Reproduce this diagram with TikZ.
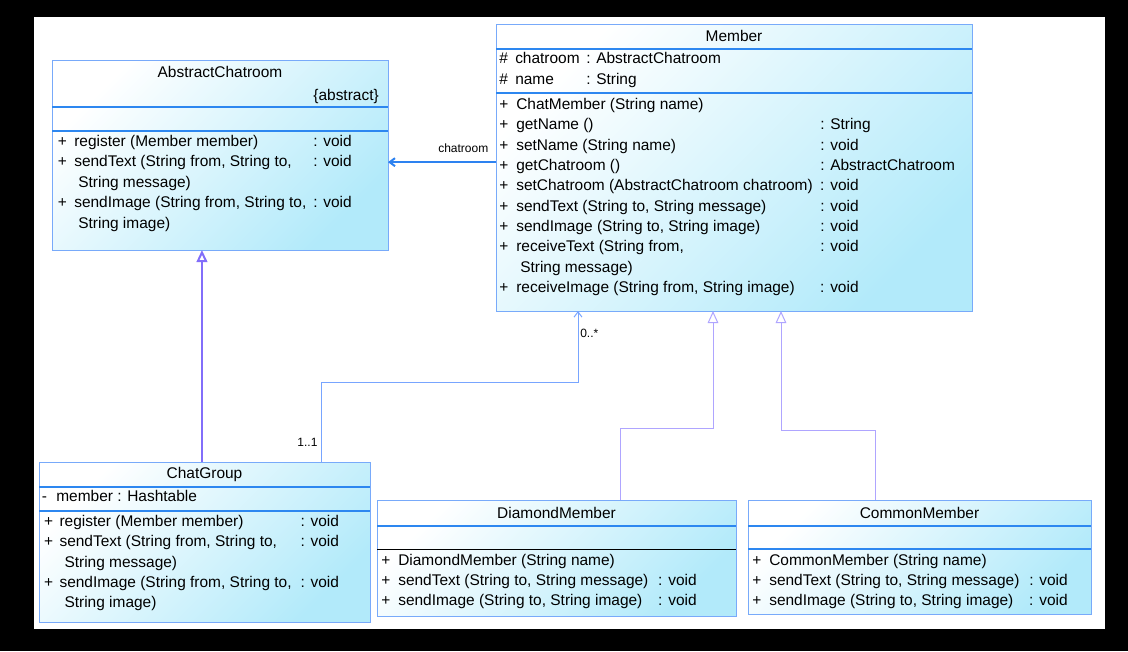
\documentclass[tikz,border=0pt]{standalone}
\usepackage{fontspec}
\setmainfont{Liberation Sans}
\usetikzlibrary{arrows.meta}
\definecolor{boxline}{RGB}{120,170,250}
\definecolor{boxcyan}{RGB}{178,234,250}
\definecolor{divblue}{RGB}{45,135,240}
\definecolor{genpurple}{RGB}{130,110,250}
\definecolor{genlight}{RGB}{175,165,255}
\definecolor{assocblue}{RGB}{45,130,240}
\definecolor{assoclight}{RGB}{120,165,255}
\newcommand{\umlfont}{\fontsize{11.6}{14}\selectfont}
\newcommand{\tagfont}{\fontsize{9}{11}\selectfont}
\tikzset{
    classbox/.style={draw=boxline, line width=0.75pt, top color=white, bottom color=boxcyan,
        shading angle=45, anchor=north west, inner sep=0pt, outer sep=0pt},
    divider/.style={draw=divblue, line width=1.5pt},
    umltext/.style={anchor=base west, inner sep=0pt, font=\umlfont},
    inherit/.style={draw=genlight, line width=0.75pt, -{Triangle[open, length=9pt, width=8pt, fill=white]}},
    assoc/.style={draw=assoclight, line width=0.75pt, -{Straight Barb[length=4pt, width=6pt]}},
    multtag/.style={inner sep=0pt, font=\tagfont}
}
\begin{document}
\begin{tikzpicture}[x=0.75pt, y=-0.75pt]
\useasboundingbox (0,0) rectangle (1128,651);
\fill[black] (0,0) rectangle (1128,651);
\fill[white] (34,17) rectangle (1105,629);

% AbstractChatroom
\node[classbox, minimum width=252pt, minimum height=142.5pt] (abstract) at (52,60) {};
\draw[divider] ([yshift=-35.25pt]abstract.north west) -- ([yshift=-35.25pt]abstract.north east);
\draw[divider] ([yshift=-53.25pt]abstract.north west) -- ([yshift=-53.25pt]abstract.north east);
\node[umltext, anchor=base] (abstract-name) at (220,77) {AbstractChatroom};
\node[umltext, anchor=base east] (abstract-tag) at (379,100) {\{abstract\}};
\foreach \i/\sg/\op/\rt in {0/+/{register (Member member)}/{: void},
    1/+/{sendText (String from, String to,}/{: void},
    2/{}/{\hspace{3pt}String message)}/{},
    3/+/{sendImage (String from, String to,}/{: void},
    4/{}/{\hspace{3pt}String image)}/{}}
  \node[umltext] (abstract-op\i) at (57.5,146.5+20.4*\i) {\makebox[12.4pt][l]{\sg}\makebox[179.25pt][l]{\op}\rt};

% Member
\node[classbox, minimum width=357pt, minimum height=215.25pt] (member) at (496,24) {};
\draw[divider] ([yshift=-18.75pt]member.north west) -- ([yshift=-18.75pt]member.north east);
\draw[divider] ([yshift=-51.75pt]member.north west) -- ([yshift=-51.75pt]member.north east);
\node[umltext, anchor=base] (member-name) at (734,41) {Member};
\foreach \i/\sg/\op/\rt in {0/\#/chatroom/{: AbstractChatroom}, 1/\#/name/{: String}}
  \node[umltext] (member-attr\i) at (499,63.5+20.5*\i) {\makebox[12pt][l]{\sg}\makebox[53.25pt][l]{\op}\rt};
\foreach \i/\sg/\op/\rt in {0/+/{ChatMember (String name)}/{},
    1/+/{getName ()}/{: String},
    2/+/{setName (String name)}/{: void},
    3/+/{getChatroom ()}/{: AbstractChatroom},
    4/+/{setChatroom (AbstractChatroom chatroom)}/{: void},
    5/+/{sendText (String to, String message)}/{: void},
    6/+/{sendImage (String to, String image)}/{: void},
    7/+/{receiveText (String from,}/{: void},
    8/{}/{\hspace{3pt}String message)}/{},
    9/+/{receiveImage (String from, String image)}/{: void}}
  \node[umltext] (member-op\i) at (499,109.5+20.35*\i) {\makebox[12.75pt][l]{\sg}\makebox[228pt][l]{\op}\rt};

% ChatGroup
\node[classbox, minimum width=248.25pt, minimum height=120pt] (chatgroup) at (39,462) {};
\draw[divider] ([yshift=-18.75pt]chatgroup.north west) -- ([yshift=-18.75pt]chatgroup.north east);
\draw[divider] ([yshift=-36.75pt]chatgroup.north west) -- ([yshift=-36.75pt]chatgroup.north east);
\node[umltext, anchor=base] (chatgroup-name) at (204.5,478) {ChatGroup};
\node[umltext] (chatgroup-attr) at (41.5,501.5) {\makebox[10.9pt][l]{-}member : Hashtable};
\foreach \i/\sg/\op/\rt in {0/+/{register (Member member)}/{: void},
    1/+/{sendText (String from, String to,}/{: void},
    2/{}/{\hspace{3.75pt}String message)}/{},
    3/+/{sendImage (String from, String to,}/{: void},
    4/{}/{\hspace{3.75pt}String image)}/{}}
  \node[umltext] (chatgroup-op\i) at (43.8,526.5+20.25*\i) {\makebox[11.6pt][l]{\sg}\makebox[180.75pt][l]{\op}\rt};

% DiamondMember
\node[classbox, minimum width=269.25pt, minimum height=87pt] (diamond) at (377,500) {};
\draw[divider] ([yshift=-19.5pt]diamond.north west) -- ([yshift=-19.5pt]diamond.north east);
\draw[black, line width=0.75pt] ([yshift=-36.75pt]diamond.north west) -- ([yshift=-36.75pt]diamond.north east);
\node[umltext, anchor=base] (diamond-name) at (556.5,518) {DiamondMember};
\foreach \i/\sg/\op/\rt in {0/+/{DiamondMember (String name)}/{},
    1/+/{sendText (String to, String message)}/{: void},
    2/+/{sendImage (String to, String image)}/{: void}}
  \node[umltext] (diamond-op\i) at (381,565.5+20.2*\i) {\makebox[12.75pt][l]{\sg}\makebox[195pt][l]{\op}\rt};

% CommonMember
\node[classbox, minimum width=257.25pt, minimum height=85.5pt] (common) at (748,500) {};
\draw[divider] ([yshift=-19.5pt]common.north west) -- ([yshift=-19.5pt]common.north east);
\draw[divider] ([yshift=-36.75pt]common.north west) -- ([yshift=-36.75pt]common.north east);
\node[umltext, anchor=base] (common-name) at (919.5,518) {CommonMember};
\foreach \i/\sg/\op/\rt in {0/+/{CommonMember (String name)}/{},
    1/+/{sendText (String to, String message)}/{: void},
    2/+/{sendImage (String to, String image)}/{: void}}
  \node[umltext] (common-op\i) at (752,565.5+20.2*\i) {\makebox[12.75pt][l]{\sg}\makebox[195pt][l]{\op}\rt};

% Associations
\draw[assoc, draw=assocblue, line width=1.5pt] ([yshift=4pt]member.west) -- ([yshift=4pt]member.west -| abstract.east)
    node[multtag, pos=0, anchor=base east, xshift=-5pt, yshift=7.5pt] (chatroom-role) {chatroom};
\draw[assoc] ([xshift=-36.75pt]chatgroup.north east)
    node[multtag, anchor=base east, xshift=-2.25pt, yshift=12pt] (group-mult) {1..1}
    -- ++(0,-80) -| ([xshift=61.5pt]member.south west);
\node[multtag, anchor=base west, xshift=1.5pt, yshift=-19.5pt] (member-mult) at ([xshift=61.5pt]member.south west) {0..*};

% Generalizations
\draw[inherit, draw=genpurple, line width=1.5pt] ([xshift=-1.9pt]chatgroup.north) -- ([xshift=-1.9pt]chatgroup.north |- abstract.south);
\draw[inherit] ([xshift=182.25pt]diamond.north west) -- ++(0,-72) -| ([xshift=162.75pt]member.south west);
\draw[inherit] ([xshift=95.25pt]common.north west) -- ++(0,-70) -| ([xshift=213.75pt]member.south west);

\end{tikzpicture}
\end{document}
